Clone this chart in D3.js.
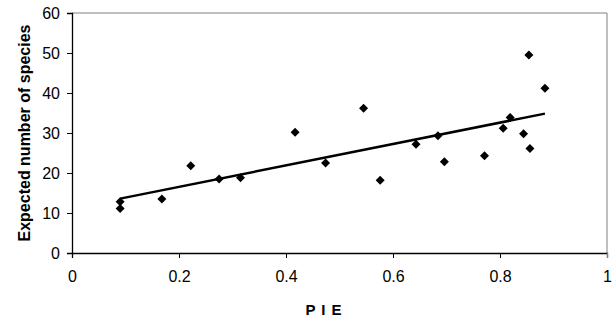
<!DOCTYPE html>
<html><head><meta charset="utf-8">
<script src="https://cdn.jsdelivr.net/npm/d3@7"></script>
<style>body{margin:0;background:#fff}svg{display:block}</style>
</head><body>
<script>
const pie = [0.090,0.090,0.168,0.222,0.275,0.315,0.417,0.474,0.545,0.576,0.643,0.684,0.696,0.771,0.806,0.819,0.844,0.854,0.856,0.884];
const species = [12.8,11.1,13.5,21.8,18.5,18.8,30.2,22.5,36.2,18.2,27.2,29.3,22.8,24.3,31.2,33.9,29.8,49.5,26.1,41.2];
const xTicks = [0,0.2,0.4,0.6,0.8,1];
const yTicks = [0,10,20,30,40,50,60];

const W=615,H=329;
const m={l:72,r:8,t:13,b:76};
const svg=d3.select("body").append("svg").attr("width",W).attr("height",H);
const x=d3.scaleLinear().domain([0,1]).range([m.l,W-m.r]);
const y=d3.scaleLinear().domain([0,60]).range([H-m.b,m.t]);
const font="Liberation Sans, Arial, sans-serif";

svg.append("path").attr("d",`M${x(0)},${y(60)}H${x(1)}V${y(0)}`).attr("fill","none").attr("stroke","#808080").attr("stroke-width",1);

const xa=svg.append("g").attr("transform",`translate(0,${y(0)})`)
  .call(d3.axisBottom(x).tickValues(xTicks).tickSize(5).tickPadding(13).tickFormat(d3.format("")));
const ya=svg.append("g").attr("transform",`translate(${x(0)},0)`)
  .call(d3.axisLeft(y).tickValues(yTicks).tickSize(5).tickPadding(7));
[xa,ya].forEach(g=>{
  g.select(".domain").attr("stroke","#000").attr("stroke-width",1.3);
  g.selectAll(".tick line").attr("stroke","#000");
  g.selectAll("text").attr("font-family",font).attr("font-size",16).attr("fill","#000");
});
xa.select(".tick:last-child line").attr("stroke","#808080");

const n=pie.length, mx=d3.mean(pie), my=d3.mean(species);
let sxy=0,sxx=0;for(let i=0;i<n;i++){sxy+=(pie[i]-mx)*(species[i]-my);sxx+=(pie[i]-mx)**2;}
const b=sxy/sxx,a=my-b*mx;
const x0=d3.min(pie),x1=d3.max(pie);
svg.append("line").attr("x1",x(x0)).attr("y1",y(a+b*x0)).attr("x2",x(x1)).attr("y2",y(a+b*x1))
  .attr("stroke","#000").attr("stroke-width",2.5);

svg.append("g").selectAll("path").data(pie).join("path")
  .attr("transform",(d,i)=>`translate(${x(d)},${y(species[i])})`)
  .attr("d","M0,-4.5L4.5,0L0,4.5L-4.5,0Z").attr("fill","#000");

svg.append("text").attr("x",324).attr("y",315).attr("text-anchor","middle")
  .attr("font-family",font).attr("font-size",15).attr("font-weight","bold").attr("letter-spacing","1px").text("P I E");
svg.append("text").attr("transform",`translate(30,${(y(0)+y(60))/2}) rotate(-90)`).attr("text-anchor","middle")
  .attr("font-family",font).attr("font-size",16).attr("font-weight","bold").text("Expected number of species");
</script>
</body></html>
